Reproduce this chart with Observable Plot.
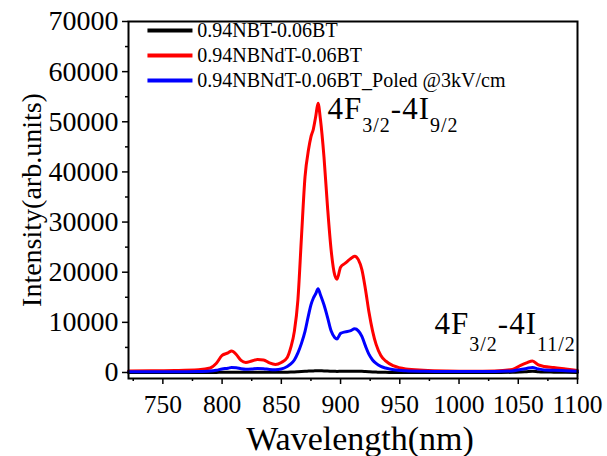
<!DOCTYPE html>
<html>
<head>
<meta charset="utf-8">
<script src="https://cdn.jsdelivr.net/npm/d3@7"></script>
<script src="https://cdn.jsdelivr.net/npm/@observablehq/plot@0.6"></script>
<style>
  html, body { margin: 0; padding: 0; background: #ffffff; }
  #chart { width: 607px; height: 456px; }
  #chart svg text { font-family: "Liberation Serif", "Times New Roman", serif; }
</style>
</head>
<body>
<div id="chart"></div>
<script>
// ---------- data ----------
const wavelength = [721, 740, 760, 780, 790, 795, 800, 805, 808, 812, 816, 820, 825, 830, 835, 840, 845, 850, 855, 858, 861, 864, 867, 870, 873, 875, 877, 879, 881, 883, 886, 889, 892, 895, 897, 900, 904, 908, 912, 915, 918, 921, 924, 927, 930, 934, 938, 945, 955, 970, 990, 1010, 1030, 1045, 1052, 1057, 1062, 1067, 1072, 1080, 1090, 1100];

const intensityNBT = [0, 0, 0, 0, 10, 20, 40, 50, 60, 50, 40, 40, 50, 60, 50, 40, 40, 50, 70, 90, 120, 160, 200, 240, 280, 300, 320, 330, 340, 330, 310, 280, 250, 230, 220, 230, 240, 250, 260, 250, 230, 190, 150, 110, 80, 50, 30, 10, 0, 0, 0, 0, 0, 30, 100, 170, 250, 150, 100, 70, 40, 20];

const intensityNBNdT = [300, 350, 400, 550, 900, 1800, 3400, 3900, 4300, 3600, 2400, 2000, 2300, 2600, 2500, 1900, 1600, 2000, 3000, 5000, 8200, 14500, 27000, 39000, 44500, 47000, 48500, 51000, 53700, 50500, 43000, 33000, 24500, 19500, 18600, 21000, 21800, 22600, 23200, 22500, 20500, 16600, 12000, 8300, 5600, 3400, 2300, 1300, 700, 450, 300, 250, 300, 600, 1400, 1900, 2300, 1500, 1200, 1000, 700, 400];

const intensityPoled = [150, 150, 150, 200, 300, 450, 700, 850, 1000, 950, 750, 650, 700, 800, 750, 600, 550, 700, 1200, 1700, 2500, 3900, 5800, 8200, 11500, 13500, 14800, 15700, 16700, 15500, 13500, 11000, 8300, 7000, 6700, 7800, 8100, 8300, 8700, 8300, 7200, 5300, 3600, 2500, 1800, 1200, 900, 550, 350, 250, 200, 200, 200, 300, 600, 800, 1000, 700, 500, 450, 350, 250];

const seriesNames = ["0.94NBT-0.06BT", "0.94NBNdT-0.06BT", "0.94NBNdT-0.06BT_Poled @3kV/cm"];
const seriesValues = [intensityNBT, intensityNBNdT, intensityPoled];

const xTicks = [750, 800, 850, 900, 950, 1000, 1050, 1100];
const xMinorTicks = [725, 775, 825, 875, 925, 975, 1025, 1075];
const yTicks = [0, 10000, 20000, 30000, 40000, 50000, 60000, 70000];
const yMinorTicks = [5000, 15000, 25000, 35000, 45000, 55000, 65000];

const annotationTexts = ["4F_{3/2}-4I_{9/2}", "4F_{3/2}-4I_{11/2}"];

// ---------- layout / style ----------
const seriesColors = ["#000000", "#ff0000", "#0000ff"];
const annotationLayout = [{x: 889, y: 52570, shift: 13}, {x: 979.3, y: 9690, shift: 17}];
const legendLayout = {x1: 737, x2: 775, xText: 779, rows: [68200, 63220, 58230]};
const FONT = "'Liberation Serif', 'Times New Roman', serif";

// ---------- tables ----------
const rows = [];
seriesNames.forEach((name, s) => {
  wavelength.forEach((w, i) => rows.push({series: name, wavelength: w, intensity: seriesValues[s][i]}));
});
const legendRows = seriesNames.map((name, i) => ({
  series: name, color: seriesColors[i],
  x1: legendLayout.x1, x2: legendLayout.x2, xText: legendLayout.xText, y: legendLayout.rows[i]
}));
const annotationRows = annotationTexts.map((t, i) => ({text: t, ...annotationLayout[i]}));

const chart = Plot.plot({
  width: 607,
  height: 456,
  marginLeft: 128,
  marginRight: 30,
  marginTop: 21,
  marginBottom: 78,
  style: {fontFamily: FONT, background: "#ffffff", color: "#000000"},
  x: {domain: [721, 1100]},
  y: {domain: [-1200, 70000]},
  marks: [
    ...seriesNames.map((name, s) =>
      Plot.line(rows.filter(r => r.series === name), {
        x: "wavelength", y: "intensity", stroke: seriesColors[s],
        strokeWidth: 3, curve: "monotone-x", strokeLinejoin: "round"
      })
    ),
    Plot.frame({stroke: "#000000", strokeWidth: 2}),
    Plot.axisX({ticks: xTicks, tickSize: 6, tickPadding: 10, strokeWidth: 1.5, fontSize: 25.5,
      fontFamily: FONT, tickFormat: d => String(d), label: null}),
    Plot.axisX({ticks: xMinorTicks, tickSize: 3, strokeWidth: 1.5, tickFormat: () => "", label: null}),
    Plot.axisY({ticks: yTicks, tickSize: 6, tickPadding: 4, strokeWidth: 1.5, fontSize: 28,
      fontFamily: FONT, tickFormat: d => String(d), label: null}),
    Plot.axisY({ticks: yMinorTicks, tickSize: 3, strokeWidth: 1.5, tickFormat: () => "", label: null}),
    Plot.text(["Wavelength(nm)"], {frameAnchor: "bottom", dx: 7, dy: 61, fontSize: 34,
      fontFamily: FONT, lineAnchor: "middle", fill: "#000000"}),
    Plot.text(["Intensity(arb.units)"], {frameAnchor: "left", dx: -96, rotate: -90, fontSize: 28,
      fontFamily: FONT, lineAnchor: "middle", textAnchor: "middle", fill: "#000000"}),
    // legend
    Plot.link(legendRows, {x1: "x1", x2: "x2", y1: "y", y2: "y", stroke: "color", strokeWidth: 4}),
    Plot.text(legendRows, {x: "xText", y: "y", text: "series", textAnchor: "start", fontSize: 20,
      fontFamily: FONT, fill: "#000000", lineAnchor: "middle"}),
    // annotations
    Plot.text(annotationRows, {x: "x", y: "y", text: "text", textAnchor: "start", fontSize: 31,
      fontFamily: FONT, fill: "#000000", lineAnchor: "middle"})
  ]
});

// drop the empty labels of the minor-tick axes
chart.querySelectorAll("text").forEach(t => {
  if (t.textContent === "") t.remove();
});

// subscript post-processing for the annotation labels
chart.querySelectorAll("text").forEach(t => {
  const content = t.textContent;
  const idx = annotationTexts.indexOf(content);
  if (idx < 0) return;
  const shift = annotationLayout[idx].shift;
  t.textContent = "";
  t.setAttribute("letter-spacing", 1);
  const re = /_\{([^}]+)\}|([^_]+)/g;
  let m, inSub = false;
  const ns = "http://www.w3.org/2000/svg";
  while ((m = re.exec(content)) !== null) {
    const ts = document.createElementNS(ns, "tspan");
    if (m[1] !== undefined) {
      ts.textContent = m[1];
      ts.setAttribute("font-size", 20);
      ts.setAttribute("dy", shift);
      inSub = true;
    } else {
      ts.textContent = m[2];
      if (inSub) ts.setAttribute("dy", -shift);
      inSub = false;
    }
    t.appendChild(ts);
  }
});

document.getElementById("chart").appendChild(chart);
</script>
</body>
</html>
